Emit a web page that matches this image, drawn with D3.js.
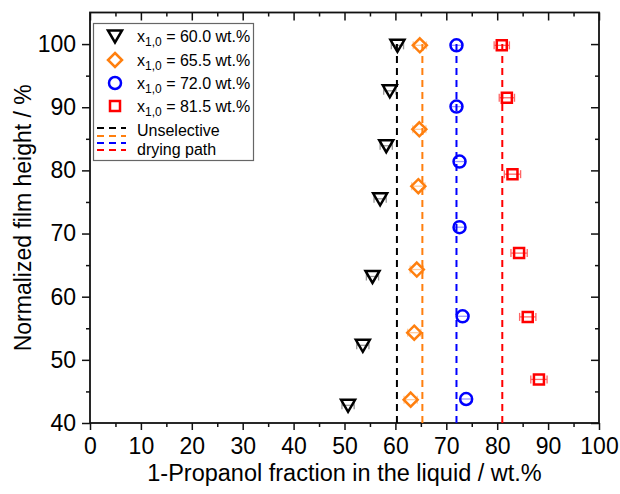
<!DOCTYPE html>
<html>
<head>
<meta charset="utf-8">
<script src="https://cdn.jsdelivr.net/npm/d3@7"></script>
<style>
  html, body { margin: 0; padding: 0; background: #fff; }
  svg { display: block; font-family: "Liberation Sans", Arial, sans-serif; }
</style>
</head>
<body>
<svg id="chart" width="620" height="494"></svg>
<script>
// ---- data ----
const xTicks = [0, 10, 20, 30, 40, 50, 60, 70, 80, 90, 100];
const yTicks = [40, 50, 60, 70, 80, 90, 100];
const seriesNames = ["60.0", "65.5", "72.0", "81.5"];

const blackX = [60.4, 58.9, 58.2, 57.0, 55.5, 53.6, 50.7];
const blackY = [99.8, 92.6, 83.9, 75.5, 63.2, 52.3, 42.8];
const blackErr = [1.2, 1.2, 1.2, 1.2, 1.2, 1.2, 1.2];

const orangeX = [64.8, 64.7, 64.5, 64.2, 63.7, 63.0];
const orangeY = [99.8, 86.5, 77.5, 64.3, 54.3, 43.7];
const orangeErr = [1.3, 1.3, 1.3, 1.3, 1.3, 1.3];

const blueX = [72.0, 72.0, 72.6, 72.6, 73.2, 73.9];
const blueY = [99.8, 90.1, 81.4, 71.0, 56.9, 43.8];
const blueErr = [1.1, 1.1, 1.1, 1.1, 1.1, 1.1];

const redX = [80.9, 81.9, 83.0, 84.3, 86.0, 88.2];
const redY = [99.8, 91.5, 79.4, 66.9, 56.8, 46.9];
const redErr = [1.5, 1.5, 1.6, 1.6, 1.6, 1.6];

// unselective drying path (vertical lines)
const pathX = [60.3, 65.3, 72.0, 81.0];
const pathY = [40, 100];

// ---- layout ----
const svg = d3.select("#chart");
const L = 90, R = 599, T = 12.5, B = 423;
const x = d3.scaleLinear().domain([0, 100]).range([L, R]);
const y = d3.scaleLinear().domain([40, 105]).range([B, T]);

const colors = ["#000000", "#ff7f0e", "#0000ff", "#ff0000"];
const shapes = ["tri", "dia", "circ", "sq"];

function shapePath(s) {
  if (s === "tri") return "M-7,-5.5L7,-5.5L0,6.5Z";
  if (s === "dia") return "M0,-7L7,0L0,7L-7,0Z";
  if (s === "circ") return "M6,0A6,6 0 1,1 -6,0A6,6 0 1,1 6,0Z";
  return "M-5,-5L5,-5L5,5L-5,5Z";
}

const series = [
  {xs: blackX, ys: blackY, err: blackErr},
  {xs: orangeX, ys: orangeY, err: orangeErr},
  {xs: blueX, ys: blueY, err: blueErr},
  {xs: redX, ys: redY, err: redErr}
].map((s, i) => ({
  color: colors[i], shape: shapes[i],
  pts: s.xs.map((v, j) => ({x: v, y: s.ys[j], e: s.err[j]}))
}));

// ---- axes ----
const axisG = svg.append("g");
// bottom
axisG.append("g").attr("transform", `translate(0,${B})`)
  .call(d3.axisBottom(x).tickValues(xTicks).tickSize(7).tickPadding(8).tickFormat(d3.format("d")));
axisG.append("g").attr("transform", `translate(0,${B})`)
  .call(d3.axisBottom(x).tickValues(d3.range(5, 100, 10)).tickSize(4).tickFormat(""));
// left
axisG.append("g").attr("transform", `translate(${L},0)`)
  .call(d3.axisLeft(y).tickValues(yTicks).tickSize(8).tickPadding(6).tickFormat(d3.format("d")));
axisG.append("g").attr("transform", `translate(${L},0)`)
  .call(d3.axisLeft(y).tickValues(d3.range(45, 105, 10)).tickSize(4).tickFormat(""));
// top (inward)
axisG.append("g").attr("transform", `translate(0,${T})`)
  .call(d3.axisBottom(x).tickValues(xTicks).tickSize(8).tickFormat(""));
axisG.append("g").attr("transform", `translate(0,${T})`)
  .call(d3.axisBottom(x).tickValues(d3.range(5, 100, 10)).tickSize(4).tickFormat(""));
// right (inward)
axisG.append("g").attr("transform", `translate(${R},0)`)
  .call(d3.axisLeft(y).tickValues(yTicks).tickSize(8).tickFormat(""));
axisG.append("g").attr("transform", `translate(${R},0)`)
  .call(d3.axisLeft(y).tickValues(d3.range(45, 105, 10)).tickSize(4).tickFormat(""));

axisG.selectAll(".domain").remove();
axisG.selectAll(".tick line").attr("stroke", "#111").attr("stroke-width", 1.5);
axisG.selectAll(".tick text").attr("font-size", 23).attr("fill", "#000")
  .attr("font-family", "'Liberation Sans', Arial, sans-serif");

// frame
svg.append("rect").attr("x", L).attr("y", T).attr("width", R - L).attr("height", B - T)
  .attr("fill", "none").attr("stroke", "#111").attr("stroke-width", 1.8);

// ---- dashed lines ----
svg.append("g").selectAll("line").data(pathX).join("line")
  .attr("x1", d => x(d)).attr("x2", d => x(d))
  .attr("y1", y(pathY[1])).attr("y2", y(pathY[0]))
  .attr("stroke", (d, i) => colors[i]).attr("stroke-width", 2)
  .attr("stroke-dasharray", "7,5");

// ---- error bars ----
series.forEach(s => {
  const g = svg.append("g").attr("stroke", s.color).attr("stroke-width", 1.3)
    .attr("opacity", s.shape === "sq" ? 0.6 : 0.4).attr("fill", "none");
  s.pts.forEach(p => {
    const cy = y(p.y), x0 = x(p.x - p.e), x1 = x(p.x + p.e);
    g.append("line").attr("x1", x0).attr("x2", x1).attr("y1", cy).attr("y2", cy);
    g.append("line").attr("x1", x0).attr("x2", x0).attr("y1", cy - 4).attr("y2", cy + 4);
    g.append("line").attr("x1", x1).attr("x2", x1).attr("y1", cy - 4).attr("y2", cy + 4);
  });
});

// ---- markers ----
series.forEach(s => {
  svg.append("g").selectAll("path").data(s.pts).join("path")
    .attr("d", shapePath(s.shape))
    .attr("transform", d => `translate(${x(d.x)},${y(d.y)})`)
    .attr("fill", "none").attr("stroke", s.color).attr("stroke-width", 2.5);
});

// ---- legend ----
const lg = svg.append("g");
lg.append("rect").attr("x", 93.5).attr("y", 23.5).attr("width", 160).attr("height", 137)
  .attr("fill", "#fff").attr("stroke", "#666").attr("stroke-width", 1.2);
const rowY = [36, 60, 83, 106];
seriesNames.forEach((n, i) => {
  lg.append("path").attr("d", shapePath(shapes[i]))
    .attr("transform", `translate(115,${rowY[i]})`)
    .attr("fill", "none").attr("stroke", colors[i]).attr("stroke-width", 2.5);
  const t = lg.append("text").attr("x", 137).attr("y", rowY[i] + 6)
    .attr("font-size", 16).attr("fill", "#000");
  t.append("tspan").text("x");
  t.append("tspan").attr("font-size", 12).attr("dy", 4).text("1,0");
  t.append("tspan").attr("dy", -4).text(` = ${n} wt.%`);
});
const dashY = [128, 136, 143, 150];
dashY.forEach((dy, i) => {
  lg.append("line").attr("x1", 97).attr("x2", 126).attr("y1", dy).attr("y2", dy)
    .attr("stroke", colors[i]).attr("stroke-width", 2).attr("stroke-dasharray", "7,5");
});
lg.append("text").attr("x", 137).attr("y", 136).attr("font-size", 16).text("Unselective");
lg.append("text").attr("x", 137).attr("y", 155).attr("font-size", 16).text("drying path");

// ---- axis titles ----
svg.append("text").attr("x", (L + R) / 2).attr("y", 481).attr("text-anchor", "middle")
  .attr("font-size", 23.5).text("1-Propanol fraction in the liquid / wt.%");
svg.append("text").attr("transform", `translate(31,${(T + B) / 2}) rotate(-90)`)
  .attr("text-anchor", "middle").attr("font-size", 23).text("Normalized film height / %");
</script>
</body>
</html>
